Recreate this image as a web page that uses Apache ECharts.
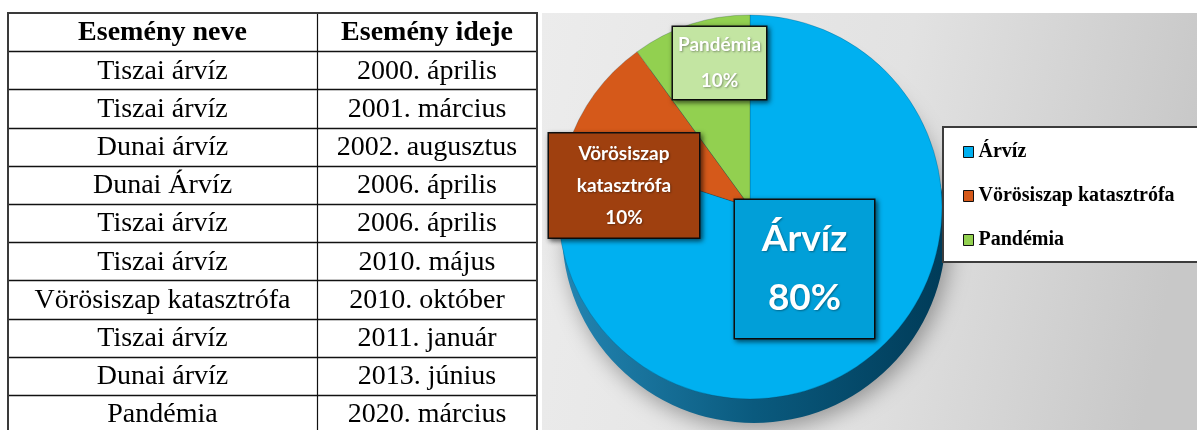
<!DOCTYPE html>
<html>
<head>
<meta charset="utf-8">
<script src="https://cdn.jsdelivr.net/npm/echarts@6/dist/echarts.min.js"></script>
<style>
html,body{margin:0;padding:0;background:#fff;}
#chart{width:1197px;height:430px;}
</style>
</head>
<body>
<div id="chart"></div>
<script>
// ---- data ----
const tableHeaders = ['Esemény neve', 'Esemény ideje'];
const eventNames = ['Tiszai árvíz', 'Tiszai árvíz', 'Dunai árvíz', 'Dunai Árvíz', 'Tiszai árvíz',
  'Tiszai árvíz', 'Vörösiszap katasztrófa', 'Tiszai árvíz', 'Dunai árvíz', 'Pandémia'];
const eventDates = ['2000. április', '2001. március', '2002. augusztus', '2006. április', '2006. április',
  '2010. május', '2010. október', '2011. január', '2013. június', '2020. március'];
const categories = ['Árvíz', 'Vörösiszap katasztrófa', 'Pandémia'];
const categoryCounts = [8, 1, 1];

// ---- styles / layout ----
const faceColors = ['#00b0f0', '#d5591a', '#92d050'];
const boxColors = ['#019fd8', '#9f400f', '#c3e5a2'];
const labelFont = [37, 19, 19];
const labelLine = [59, 32, 36];
const labelWidth = [139, 150, 93];
const labelPadV = [10, 4, 0];
const labelCenters = [[804.5, 269], [624, 185.5], [719.5, 63]];

const T = { x0: 8, x1: 537, xm: 317, y0: 13, rh: 38.2 };
const graphics = [];
graphics.push({
  type: 'rect', z: 0, silent: true,
  shape: { x: 542, y: 13, width: 655, height: 417 },
  style: { fill: new echarts.graphic.LinearGradient(0, 0, 1, 0.3, [
    { offset: 0, color: '#ececec' }, { offset: 0.55, color: '#e2e2e2' }, { offset: 1, color: '#c8c8c8' }]) }
});
const rows = [tableHeaders].concat(eventNames.map((n, i) => [n, eventDates[i]]));
rows.forEach((r, i) => {
  const cy = T.y0 + T.rh * i + T.rh / 2;
  const font = (i === 0 ? 'bold ' : '') + '28px "Liberation Serif", "Times New Roman", serif';
  graphics.push({ type: 'text', z: 1, silent: true, style: { text: r[0], x: (T.x0 + T.xm) / 2, y: cy + 1, align: 'center', verticalAlign: 'middle', font: font, fill: '#000' } });
  graphics.push({ type: 'text', z: 1, silent: true, style: { text: r[1], x: (T.xm + T.x1) / 2, y: cy + 1, align: 'center', verticalAlign: 'middle', font: font, fill: '#000' } });
  if (i > 0) {
    const y = Math.round(T.y0 + T.rh * i) + 0.5;
    graphics.push({ type: 'line', z: 1, silent: true, shape: { x1: T.x0, y1: y, x2: T.x1, y2: y }, style: { stroke: '#111', lineWidth: 1.5 } });
  }
});
const tableBottom = T.y0 + T.rh * rows.length;
graphics.push({ type: 'line', z: 1, silent: true, shape: { x1: T.xm + 0.5, y1: T.y0, x2: T.xm + 0.5, y2: tableBottom }, style: { stroke: '#111', lineWidth: 1.2 } });
graphics.push({ type: 'rect', z: 1, silent: true, shape: { x: T.x0, y: T.y0, width: T.x1 - T.x0, height: tableBottom - T.y0 }, style: { fill: 'none', stroke: '#3a3a3a', lineWidth: 2 } });

const topData = categories.map((c, i) => ({
  name: c,
  value: categoryCounts[i],
  itemStyle: { color: faceColors[i] },
  label: {
    show: true,
    position: 'inside',
    formatter: (p) => p.name.replace(' ', '\n') + '\n' + Math.round(p.percent) + '%',
    color: '#fff',
    fontFamily: 'Lato, "Open Sans", sans-serif',
    fontWeight: 'bold',
    fontSize: labelFont[i],
    lineHeight: labelLine[i],
    width: labelWidth[i],
    align: 'center',
    verticalAlign: 'middle',
    backgroundColor: boxColors[i],
    borderColor: '#111',
    borderWidth: 1.5,
    padding: [labelPadV[i], 0, labelPadV[i], 0],
    shadowColor: 'rgba(0,0,0,0.55)',
    shadowBlur: 5,
    shadowOffsetX: 2,
    shadowOffsetY: 2,
    textShadowColor: 'rgba(0,0,0,0.35)',
    textShadowBlur: 2,
    textShadowOffsetX: 1,
    textShadowOffsetY: 1
  }
}));
const sideData = categories.map((c, i) => ({
  name: c,
  value: categoryCounts[i],
  itemStyle: {
    color: new echarts.graphic.LinearGradient(0, 0, 1, 0, [
      { offset: 0, color: '#2385b2' }, { offset: 0.5, color: '#0a5a7e' }, { offset: 1, color: '#003b58' }]),
    shadowColor: 'rgba(0,0,0,0.35)',
    shadowBlur: 22,
    shadowOffsetX: 4,
    shadowOffsetY: 6
  }
}));

const chart = echarts.init(document.getElementById('chart'), null, { renderer: 'canvas' });
chart.setOption({
  animation: false,
  backgroundColor: '#fff',
  graphic: graphics,
  legend: {
    orient: 'vertical',
    left: 943,
    top: 127,
    padding: [13, 40, 10, 20],
    itemGap: 20,
    itemWidth: 10,
    itemHeight: 11,
    icon: 'rect',
    backgroundColor: '#fff',
    borderColor: '#3c3c3c',
    borderWidth: 2,
    selectedMode: false,
    textStyle: { fontFamily: '"Liberation Serif", "Times New Roman", serif', fontWeight: 'bold', fontSize: 20, lineHeight: 24, color: '#000' },
    data: categories.map((c, i) => ({ name: c, itemStyle: { color: faceColors[i], borderColor: '#111', borderWidth: 1 } }))
  },
  series: [
    {
      type: 'pie', name: 'top', z: 3, silent: true,
      center: [750, 207], radius: 192,
      startAngle: 90, clockwise: true,
      itemStyle: { borderColor: 'rgba(0,40,60,0.35)', borderWidth: 0.6 },
      labelLine: { show: false },
      labelLayout: (p) => ({ x: labelCenters[p.dataIndex][0], y: labelCenters[p.dataIndex][1], hideOverlap: false }),
      data: topData
    },
    {
      type: 'pie', name: 'side', z: 2, silent: true,
      center: [754, 231], radius: 192,
      startAngle: 90, clockwise: true,
      label: { show: false }, labelLine: { show: false },
      data: sideData
    }
  ]
});
</script>
</body>
</html>
